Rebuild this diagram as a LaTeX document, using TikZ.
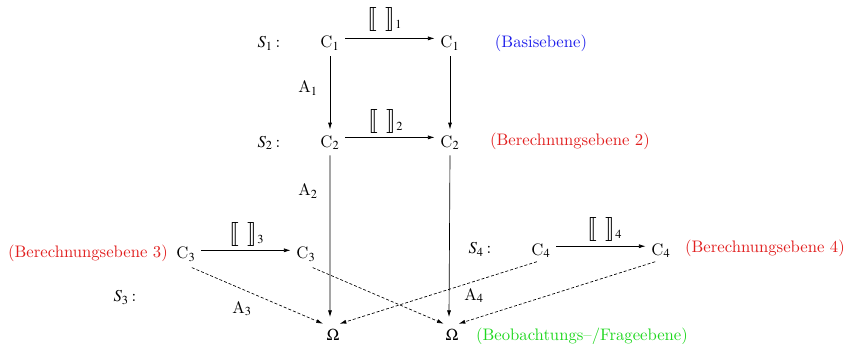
\documentclass[tikz,border=0pt]{standalone}
\usepackage{mathptmx}
\usepackage{stmaryrd}
\usetikzlibrary{arrows.meta}
\definecolor{ebeneblau}{RGB}{30,30,235}
\definecolor{ebenerot}{RGB}{225,30,30}
\definecolor{ebenegruen}{RGB}{30,215,30}
\tikzset{
  lvl/.style={anchor=base},
  pfeil/.style={-{Latex[length=4pt,width=2.4pt]}},
  strich/.style={pfeil,dash pattern=on 1.8pt off 1.2pt},
}
\newcommand{\sembr}[1]{{\fontsize{14}{15}\selectfont$\llbracket\hspace{0.35em}\rrbracket$}$_{#1}$}
\begin{document}
\begin{tikzpicture}[x=0.6pt,y=-0.6pt]
\useasboundingbox (0,0) rectangle (847,344);
% Basisebene
\node[lvl] (s1) at (269,48) {$S_1$\,:};
\node[lvl] (c1l) at (330,48) {C$_1$};
\node[lvl] (c1r) at (450,48) {C$_1$};
\node[lvl,text=ebeneblau] (e1) at (541,48) {(Basisebene)};
\node[lvl] (b1) at (385,26) {\sembr{1}};
\node[lvl] (a1) at (308,93) {A$_1$};
% Berechnungsebene 2
\node[lvl] (s2) at (269,147) {$S_2$\,:};
\node[lvl] (c2l) at (330,147) {C$_2$};
\node[lvl] (c2r) at (450,147) {C$_2$};
\node[lvl,text=ebenerot] (e2) at (570,146) {(Berechnungsebene 2)};
\node[lvl] (b2) at (386,128) {\sembr{2}};
\node[lvl] (a2) at (308,196) {A$_2$};
% Berechnungsebene 3
\node[lvl,text=ebenerot] (e3) at (88,258) {(Berechnungsebene 3)};
\node[lvl] (c3l) at (186,259) {C$_3$};
\node[lvl] (c3r) at (306,259) {C$_3$};
\node[lvl] (b3) at (247,241) {\sembr{3}};
\node[lvl] (s3) at (125,302) {$S_3$\,:};
\node[lvl] (a3) at (242,313) {A$_3$};
% Berechnungsebene 4
\node[lvl] (s4) at (480,254) {$S_4$\,:};
\node[lvl] (c4l) at (541,255) {C$_4$};
\node[lvl] (c4r) at (661,255) {C$_4$};
\node[lvl,text=ebenerot] (e4) at (765,253) {(Berechnungsebene 4)};
\node[lvl] (b4) at (605,236) {\sembr{4}};
\node[lvl] (a4) at (474,300) {A$_4$};
% Beobachtungsebene
\node[lvl] (oml) at (333,341) {$\Omega$};
\node[lvl] (omr) at (452,341) {$\Omega$};
\node[lvl,text=ebenegruen] (e5) at (582,340) {(Beobachtungs--/Frageebene)};
% Pfeile
\draw[pfeil] ([yshift=3pt]c1l.east) -- ([yshift=3pt]c1r.west);
\draw[pfeil] ([yshift=3pt]c2l.east) -- ([yshift=3pt]c2r.west);
\draw[pfeil] ([yshift=2.5pt]c3l.east) -- ([yshift=2.5pt]c3r.west);
\draw[pfeil] ([yshift=2.5pt]c4l.east) -- ([yshift=2.5pt]c4r.west);
\draw[pfeil] (c1l) -- (c2l);
\draw[pfeil] (c1r) -- (c2r);
\draw[pfeil] (c2l.south) -- ([xshift=-1.8pt,yshift=4pt]oml.north);
\draw[pfeil] (c2r.south) -- ([xshift=-1.8pt,yshift=4pt]omr.north);
\draw[strich] ([xshift=3.5pt]c3l.south) -- ([xshift=-6pt]oml.north);
\draw[strich] ([xshift=4pt]c3r.south) -- ([xshift=-5pt]omr.north);
\draw[strich] ([xshift=-2.5pt,yshift=1pt]c4l.south) -- ([xshift=4pt]oml.north);
\draw[strich] ([xshift=-3.5pt,yshift=1pt]c4r.south) -- ([xshift=4pt]omr.north);
\end{tikzpicture}
\end{document}
